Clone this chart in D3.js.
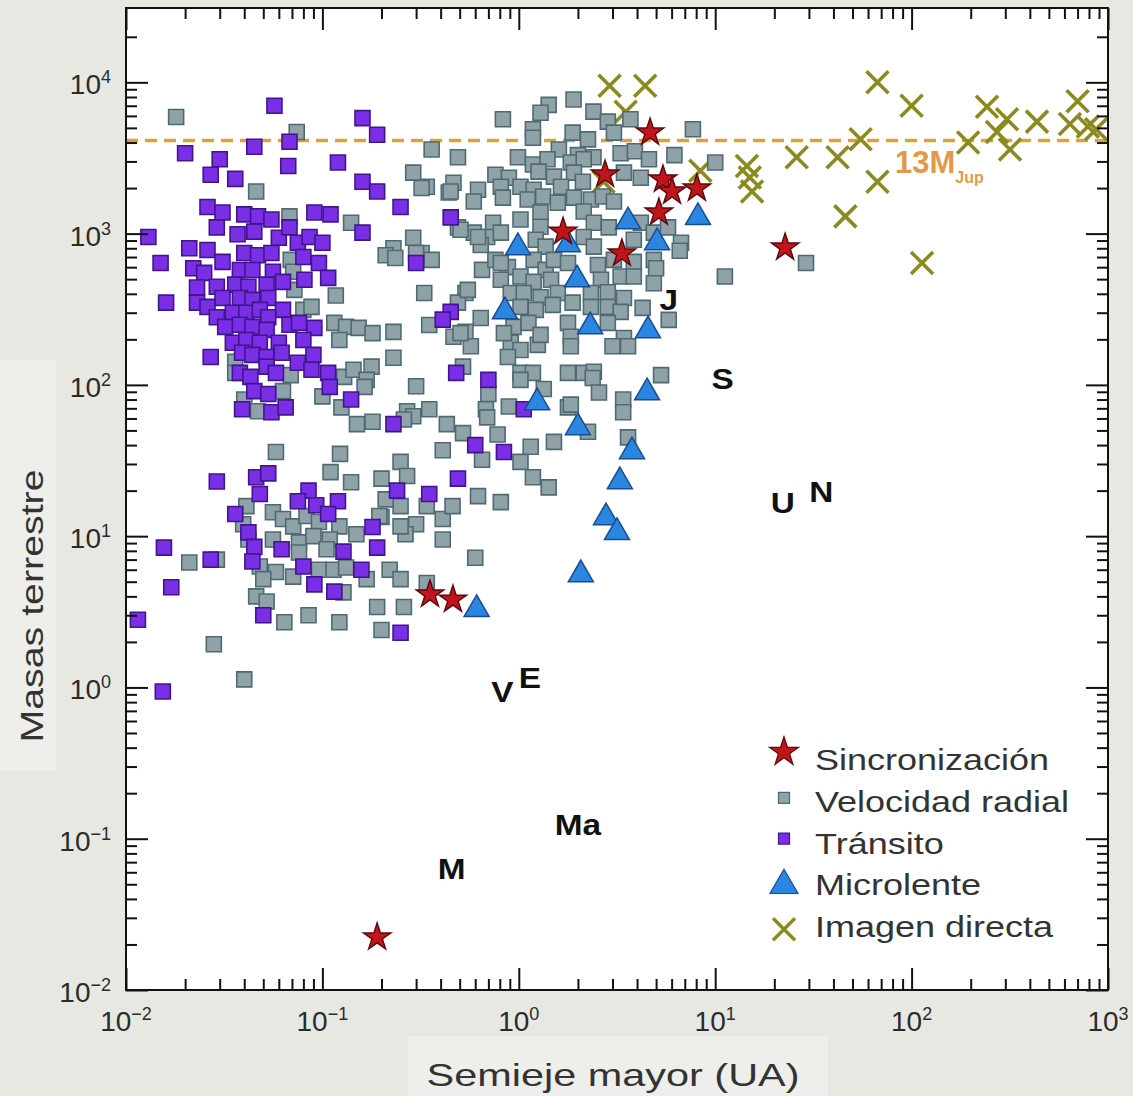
<!DOCTYPE html>
<html>
<head>
<meta charset="utf-8">
<script src="https://cdn.jsdelivr.net/npm/d3@7"></script>
<style>
  body { margin: 0; background: #e8e8e3; }
  svg { display: block; font-family: "Liberation Sans", Arial, sans-serif; }
</style>
</head>
<body>
<svg></svg>
<script>
// [semieje mayor (UA), masa (masas terrestres)]
const timingData = [[4.66,4660],[2.75,2460],[5.42,2280],[6.03,1900],[8.07,1990],[5.17,1380],[1.68,1030],[3.35,739],[22.7,809],[0.353,4.12],[0.462,3.81],[0.19,0.0223]];

const microData = [[0.99,809],[1.78,848],[3.6,1200],[5.06,873],[8.17,1280],[1.98,497],[0.85,305],[2.31,243],[4.55,229],[1.24,76.5],[2.0,52.3],[4.5,89],[3.77,36.3],[3.27,23],[2.78,13.3],[3.16,10.6],[2.07,5.58],[0.61,3.28]];

const imagingData = [[2.9,9500],[4.4,9500],[3.5,6400],[8.4,2600],[2.7,2200],[14.5,2800],[15,2350],[15.4,1900],[26,3200],[42,3200],[55,4200],[67,2200],[46,1300],[67,10000],[100,7000],[113,640],[194,4000],[242,6900],[306,5700],[272,4700],[317,3600],[435,5500],[700,7500],[640,5300],[790,5100],[870,4900]];

const rvData = [
  [0.018,5900],[0.074,4700],[0.046,1900],[0.068,1300],[0.14,1180],[0.069,670],[0.071,560],[0.072,425],[0.117,390],[0.08,313],[0.088,328],[0.115,257],[0.132,242],[0.153,238],[0.18,220],[0.122,198],[0.036,142],[0.036,120],[0.069,116],[0.129,113],[0.144,126],[0.178,132],[0.168,108],[0.164,97],[0.10,84],[0.063,91],[0.04,80],[0.047,67],[0.125,71],[0.23,800],[0.21,720],[0.235,690],[0.23,224],[0.23,151],
  [1.9,7700],[1.42,7100],[1.29,6300],[2.4,6400],[0.83,5700],[2.84,5500],[3.7,5700],[7.7,4900],[1.18,4900],[1.88,4650],[3.05,4650],[1.18,4300],[2.25,4200],[0.36,3600],[0.49,3200],[1.6,3600],[2.0,3300],[2.4,3200],[3.3,3400],[3.9,3500],[4.6,3100],[6.2,3300],[10,2950],[0.99,3200],[1.18,2860],[1.4,3100],[1.84,2950],[2.14,3100],[0.76,2450],[0.89,2340],[1.26,2570],[1.51,2380],[1.91,2530],[3.43,2530],[4.18,2340],[0.465,2170],[0.44,1870],[0.62,1950],[0.81,2040],[1.02,2040],[1.19,1950],[1.64,2040],[2.12,2200],[0.34,2040],[0.59,1630],[0.83,1730],[1.11,1680],[1.33,1760],[1.58,1600],[1.91,1730],[2.33,1680],[2.68,1760],[3.05,1630],[2.14,1400],[1.29,1380],[1.02,1240],[0.74,1180],[0.49,1100],[0.59,1015],[0.69,950],[0.81,1015],[1.29,1110],[2.41,1180],[2.87,1100],[4.18,1180],[4.87,1015],[5.75,1100],[6.7,870],[0.64,840],[1.22,910],[1.37,820],[2.14,950],[2.41,820],[3.85,910],
  [0.65,576],[0.76,670],[0.88,600],[1.19,670],[1.37,576],[1.51,670],[1.78,640],[2.53,620],[3.05,670],[3.85,650],[4.87,670],[5.0,590],[0.81,495],[1.02,520],[1.19,480],[1.46,495],[2.62,495],[3.3,520],[3.85,520],[4.87,470],[0.91,405],[1.06,405],[1.29,380],[1.58,405],[2.33,405],[2.84,410],[3.43,375],[1.02,328],[1.22,313],[1.49,338],[1.88,350],[2.33,328],[2.84,328],[3.3,304],[4.27,323],[5.8,269],[11.2,520],[0.64,277],[0.94,242],[1.12,257],[1.78,257],[2.84,257],[3.43,204],[0.91,190],[1.02,170],[1.25,184],[1.84,208],[1.84,180],[3.0,180],[3.6,180],[0.465,208],[0.535,224],[0.57,180],[0.88,153],[1.02,120],[1.18,120],[1.78,120],[2.14,120],[2.41,122],[5.3,116],[0.35,249],[0.32,745],[0.36,670],[0.33,405],[0.535,405],[0.49,350],
  [0.29,2530],[0.32,2000],[0.45,1900],[0.505,1060],[0.62,950],[0.29,940],[0.30,745],[0.505,220],[0.55,425],[0.30,98],[1.02,108],[2.38,111],[29,640],[6.6,770],
  [0.52,132],[0.70,87],[0.68,69],[0.69,61],[0.27,67],[0.35,69],[0.29,62],[0.15,55],[0.18,57],[0.43,55],[0.52,48],[0.41,37],[0.65,32],[0.78,47],[1.02,31],[1.15,39],[0.123,35],[0.25,31],[0.11,26.5],[0.89,72],[1.51,42],[1.78,71],[0.81,640],[0.84,220],[1.29,214],
  [0.26,59],[1.18,24.5],[1.42,21],[0.62,18.4],[0.81,16.8],[0.20,24],[0.30,12],[0.265,10.3],[0.41,13],[0.41,9.5],[0.34,15.8],[0.46,15.8],[0.25,15.8],[0.20,13.4],[0.60,7.2],[0.22,6.0],[0.25,5.2],[0.34,4.9],[0.26,3.4],[0.20,2.4],[1.84,74],[2.25,49],[2.56,89],[3.4,80],[3.4,66],[3.6,45],[1.34,94],
  [0.058,36],[0.14,22.7],[0.27,25],[0.041,15.8],[0.056,14.4],[0.063,13],[0.071,11.6],[0.083,13.6],[0.096,12.4],[0.122,11.6],[0.149,10.3],[0.195,13.6],[0.21,17.5],[0.25,11.6],[0.0395,12],[0.042,9.5],[0.056,9.5],[0.076,9.1],[0.09,10],[0.109,9.5],[0.105,8.2],[0.076,7.8],[0.021,6.7],[0.029,7.0],[0.048,6.3],[0.058,5.8],[0.05,5.2],[0.071,5.4],[0.096,6.0],[0.114,6.0],[0.132,6.2],[0.168,5.2],[0.046,4.0],[0.052,3.7],[0.128,4.25],[0.19,3.4],[0.064,2.7],[0.085,3.0],[0.122,2.7],[0.028,1.93],[0.04,1.13]
];

const transitData = [
  [0.057,7000],[0.16,5800],[0.19,4500],[0.045,3750],[0.068,4050],[0.02,3400],[0.03,3100],[0.067,2800],[0.12,2950],[0.027,2450],[0.036,2300],[0.16,2200],[0.19,1900],[0.026,1500],[0.031,1380],[0.029,1100],[0.04,1340],[0.047,1300],[0.055,1240],[0.091,1380],[0.11,1340],[0.16,1015],[0.25,1500],[0.013,950],[0.037,990],[0.045,1030],[0.06,940],[0.068,1100],[0.075,870],[0.086,950],[0.10,870],[0.021,800],[0.026,780],[0.015,640],[0.031,650],[0.04,745],[0.047,720],[0.055,745],[0.08,700],[0.096,640],[0.022,590],[0.025,550],[0.038,575],[0.044,575],[0.056,560],[0.063,480],[0.081,495],[0.107,510],[0.023,440],[0.029,445],[0.036,460],[0.042,445],[0.052,460],[0.016,350],[0.023,350],[0.031,375],[0.038,375],[0.044,365],[0.053,375],[0.063,313],[0.026,328],[0.029,280],[0.035,300],[0.041,300],[0.048,313],[0.053,280],[0.068,250],[0.076,257],[0.091,238],[0.032,242],[0.038,250],[0.044,242],[0.052,231],[0.08,198],[0.035,190],[0.041,198],[0.048,190],[0.06,190],[0.027,153],[0.039,163],[0.044,158],[0.052,153],[0.062,163],[0.09,158],[0.038,120],[0.043,113],[0.052,132],[0.058,120],[0.075,140],[0.088,126],[0.107,120],[0.109,97],[0.045,91],[0.053,87],[0.039,69],[0.055,66],[0.065,71],[0.14,80],
  [0.45,1280],[0.30,640],[0.45,304],[0.41,270],[0.48,120],[0.70,108],[0.23,55],[0.60,40],[0.84,36],[1.06,69],[0.49,24],[0.24,20],[0.35,19],[0.25,2.3],
  [0.029,23],[0.046,24.5],[0.053,26],[0.048,19],[0.085,20],[0.075,17],[0.093,16],[0.12,17],[0.107,14],[0.036,14],[0.042,10.6],[0.045,8.5],[0.044,6.8],[0.062,8.2],[0.08,6.3],[0.128,7.9],[0.18,11.5],[0.19,8.4],[0.158,6.0],[0.0156,8.4],[0.027,7.0],[0.017,4.6],[0.091,4.8],[0.115,4.3],[0.05,3.0],[0.0115,2.8],[0.0154,0.94]
];

const planetNames = ["M", "V", "E", "Ma", "J", "S", "U", "N"];
const planetA = [0.387, 0.723, 1, 1.524, 5.2, 9.58, 19.2, 30.1];
const planetM = [0.055, 0.815, 1, 0.107, 317.8, 95.2, 14.5, 17.1];

const limitMass = 13 * 317.8;   // 13 M_Jup en masas terrestres

const xTickExp = [-2, -1, 0, 1, 2, 3];
const yTickExp = [-2, -1, 0, 1, 2, 3, 4];

const legendLabels = ["Sincronización", "Velocidad radial", "Tránsito", "Microlente", "Imagen directa"];

const w = 1133;
const h = 1096;
const plotL = 126, plotR = 1108, plotT = 8, plotB = 990;

const svg = d3.select("svg")
  .attr("width", w)
  .attr("height", h);

const xScale = d3.scaleLog().domain([0.01, 1000]).range([plotL, plotR]);
const yScale = d3.scaleLog().domain([0.01, 3.1e4]).range([plotB, plotT]);

// fondo
svg.append("rect").attr("width", w).attr("height", h).attr("fill", "#e8e8e3");
svg.append("rect").attr("x", 0).attr("y", 360).attr("width", 56).attr("height", 410).attr("fill", "#eeeeeb");
svg.append("rect").attr("x", 408).attr("y", 1036).attr("width", 420).attr("height", 60).attr("fill", "#eeeeeb");
svg.append("rect")
  .attr("x", plotL).attr("y", plotT)
  .attr("width", plotR - plotL).attr("height", plotB - plotT)
  .attr("fill", "white");

// linea 13 Mjup
svg.append("line")
  .attr("x1", plotL).attr("x2", plotR)
  .attr("y1", yScale(limitMass)).attr("y2", yScale(limitMass))
  .attr("stroke", "#d9a23e")
  .attr("stroke-width", 3.5)
  .attr("stroke-dasharray", "12,7");

const isMajor = d => Math.abs(Math.log10(d) - Math.round(Math.log10(d))) < 1e-6;

const styleAxis = g => {
  g.select(".domain").remove();
  g.selectAll("line").attr("stroke", "#111").attr("stroke-width", 2);
};

const generateAxes = () => {
  const xMinor = xScale.ticks().filter(d => !isMajor(d));
  const yMinor = yScale.ticks().filter(d => !isMajor(d) && d < 2.5e4);
  const xMajor = xTickExp.map(e => Math.pow(10, e));
  const yMajor = yTickExp.map(e => Math.pow(10, e));

  const defs = [
    [d3.axisBottom, xScale, `translate(0,${plotB})`, xMinor, xMajor],
    [d3.axisTop, xScale, `translate(0,${plotT})`, xMinor, xMajor],
    [d3.axisLeft, yScale, `translate(${plotL},0)`, yMinor, yMajor],
    [d3.axisRight, yScale, `translate(${plotR},0)`, yMinor, yMajor]
  ];
  defs.forEach(([ax, sc, tr, minor, major]) => {
    svg.append("g").attr("transform", tr)
      .call(ax(sc).tickValues(minor).tickSize(-11).tickFormat(""))
      .call(styleAxis);
    svg.append("g").attr("transform", tr)
      .call(ax(sc).tickValues(major).tickSize(-22).tickFormat(""))
      .call(styleAxis);
  });

  const fmt = e => e < 0 ? "\u2212" + Math.abs(e) : String(e);

  const xl = svg.append("g").selectAll("text")
    .data(xTickExp)
    .join("text")
    .attr("x", d => xScale(Math.pow(10, d)))
    .attr("y", plotB + 41)
    .attr("text-anchor", "middle")
    .attr("fill", "#2b2b2b")
    .attr("font-size", 28);
  xl.append("tspan").text("10");
  xl.append("tspan").attr("dy", -11).attr("font-size", 18).text(d => fmt(d));

  const yl = svg.append("g").selectAll("text")
    .data(yTickExp)
    .join("text")
    .attr("x", 111)
    .attr("y", d => yScale(Math.pow(10, d)) + 12)
    .attr("text-anchor", "end")
    .attr("fill", "#2b2b2b")
    .attr("font-size", 28);
  yl.append("tspan").text("10");
  yl.append("tspan").attr("dy", -11).attr("font-size", 18).text(d => fmt(d));
};

const squarePath = d3.symbol().type(d3.symbolSquare).size(225)();
const starPath = d3.symbol().type(d3.symbolStar).size(230)();
const triPath = d3.symbol().type(d3.symbolTriangle).size(270)();
const crossPath = r => `M${-r},${-r}L${r},${r}M${-r},${r}L${r},${-r}`;

const drawDots = () => {
  svg.append("g").selectAll("path")
    .data(imagingData)
    .join("path")
    .attr("d", crossPath(11))
    .attr("transform", d => `translate(${xScale(d[0])},${yScale(d[1])})`)
    .attr("fill", "none")
    .attr("stroke", "#8a8a1f")
    .attr("stroke-width", 3.6);

  svg.append("g").selectAll("path")
    .data(rvData)
    .join("path")
    .attr("d", squarePath)
    .attr("transform", d => `translate(${xScale(d[0])},${yScale(d[1])})`)
    .attr("fill", "#8fa2a7")
    .attr("stroke", "#4e6b73")
    .attr("stroke-width", 1.6);

  svg.append("g").selectAll("path")
    .data(transitData)
    .join("path")
    .attr("d", squarePath)
    .attr("transform", d => `translate(${xScale(d[0])},${yScale(d[1])})`)
    .attr("fill", "#7a2ee6")
    .attr("stroke", "#40178a")
    .attr("stroke-width", 1.6);

  svg.append("g").selectAll("path")
    .data(microData)
    .join("path")
    .attr("d", triPath)
    .attr("transform", d => `translate(${xScale(d[0])},${yScale(d[1])})`)
    .attr("fill", "#2a86e0")
    .attr("stroke", "#1b4c8c")
    .attr("stroke-width", 1.5);

  svg.append("g").selectAll("path")
    .data(timingData)
    .join("path")
    .attr("d", starPath)
    .attr("transform", d => `translate(${xScale(d[0])},${yScale(d[1])})`)
    .attr("fill", "#c4141b")
    .attr("stroke", "#5a0b0b")
    .attr("stroke-width", 1.5);
};

const drawPlanets = () => {
  svg.append("g").selectAll("text")
    .data(planetNames)
    .join("text")
    .attr("transform", (d, i) => `translate(${xScale(planetA[i])},${yScale(planetM[i]) + 1}) scale(1.15,1)`)
    .attr("font-size", 29)
    .attr("font-weight", "bold")
    .attr("fill", "#111")
    .text(d => d);

  const lab = svg.append("text")
    .attr("x", 895)
    .attr("y", 173)
    .attr("font-size", 31)
    .attr("font-weight", "bold")
    .attr("fill", "#e39a48");
  lab.append("tspan").text("13M");
  lab.append("tspan").attr("dy", 10).attr("font-size", 16).text("Jup");
};

const generateLegend = () => {
  const rowY = i => 758 + i * 41.8;
  const g = svg.append("g").attr("id", "legend");
  const mx = 784;

  g.append("path").attr("d", d3.symbol().type(d3.symbolStar).size(260)())
    .attr("transform", `translate(${mx},${rowY(0) - 6})`)
    .attr("fill", "#c4141b").attr("stroke", "#5a0b0b").attr("stroke-width", 1.2);
  g.append("path").attr("d", d3.symbol().type(d3.symbolSquare).size(121)())
    .attr("transform", `translate(${mx},${rowY(1) - 2})`)
    .attr("fill", "#8fa2a7").attr("stroke", "#4e6b73").attr("stroke-width", 1.2);
  g.append("path").attr("d", d3.symbol().type(d3.symbolSquare).size(121)())
    .attr("transform", `translate(${mx},${rowY(2) - 3})`)
    .attr("fill", "#7a2ee6").attr("stroke", "#40178a").attr("stroke-width", 1.2);
  g.append("path").attr("d", d3.symbol().type(d3.symbolTriangle).size(340)())
    .attr("transform", `translate(${mx},${rowY(3) + 2})`)
    .attr("fill", "#2a86e0").attr("stroke", "#1b4c8c").attr("stroke-width", 1.2);
  g.append("path").attr("d", crossPath(11))
    .attr("transform", `translate(${mx},${rowY(4) + 4})`)
    .attr("fill", "none").attr("stroke", "#8a8a1f").attr("stroke-width", 3.4);

  g.selectAll("text")
    .data(legendLabels)
    .join("text")
    .attr("transform", (d, i) => `translate(815,${rowY(i) + 12}) scale(1.2,1)`)
    .attr("font-size", 30)
    .attr("fill", "#333")
    .text(d => d);
};

const generateTitles = () => {
  svg.append("text")
    .attr("x", 613)
    .attr("y", 1086)
    .attr("text-anchor", "middle")
    .attr("font-size", 32)
    .attr("fill", "#333")
    .attr("textLength", 373)
    .attr("lengthAdjust", "spacingAndGlyphs")
    .text("Semieje mayor (UA)");

  svg.append("text")
    .attr("transform", "translate(43,606) rotate(-90)")
    .attr("text-anchor", "middle")
    .attr("font-size", 32)
    .attr("fill", "#333")
    .attr("textLength", 273)
    .attr("lengthAdjust", "spacingAndGlyphs")
    .text("Masas terrestre");
};

drawDots();
drawPlanets();
generateAxes();
generateLegend();
generateTitles();

// marco
svg.append("rect")
  .attr("x", plotL).attr("y", plotT)
  .attr("width", plotR - plotL).attr("height", plotB - plotT)
  .attr("fill", "none")
  .attr("stroke", "#111")
  .attr("stroke-width", 2);
</script>
</body>
</html>
